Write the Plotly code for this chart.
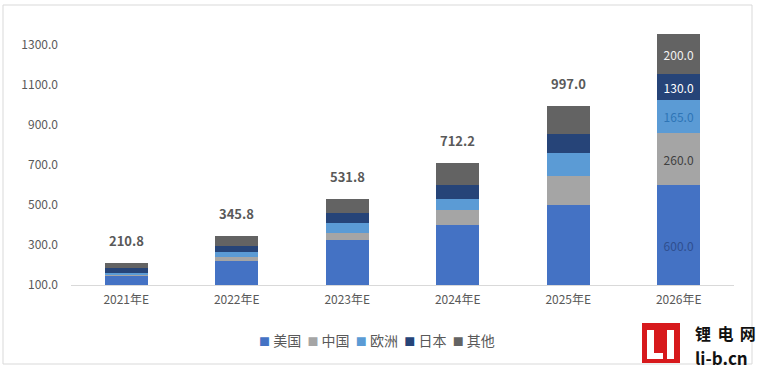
import plotly.graph_objects as go

categories = ["2021年E", "2022年E", "2023年E", "2024年E", "2025年E", "2026年E"]
series_names = ["美国", "中国", "欧洲", "日本", "其他"]
usa = [145, 220, 325, 400, 500, 600]
china = [3, 18, 37, 75, 145, 260]
europe = [12, 28, 50, 53, 117, 165]
japan = [27, 30, 50, 72, 93, 130]
other = [23.8, 49.8, 69.8, 112.2, 142, 200]
y_ticks = [100, 300, 500, 700, 900, 1100, 1300]

series_values = [usa, china, europe, japan, other]
colors = ["#4472C4", "#A5A5A5", "#5B9BD5", "#264478", "#636363"]
label_colors = ["#2F4F8F", "#404040", "#2E75B6", "#FFFFFF", "#F2F2F2"]

W, H = 757, 371
ML, MR, MT, MB = 71, 23, 5, 86
PW, PH = W - ML - MR, H - MT - MB

def px(x):
    return (x - ML) / PW

def py(y):
    return (H - MB - y) / PH

FONT = "Noto Sans CJK SC"

fig = go.Figure()
for name, vals, col, lcol in zip(series_names, series_values, colors, label_colors):
    txt = [""] * (len(vals) - 1) + [f"{vals[-1]:.1f}"]
    fig.add_trace(go.Bar(
        x=categories, y=vals, name=name, marker=dict(color=col, line=dict(width=0)),
        text=txt, textposition="inside", insidetextanchor="middle",
        textfont=dict(color=lcol, size=12, family=FONT), showlegend=False,
    ))

totals = [sum(v) for v in zip(*series_values)]
annotations = []
for c, t in list(zip(categories, totals))[:-1]:
    annotations.append(dict(x=c, y=t, xref="x", yref="y", text=f"<b>{t:.1f}</b>",
                            showarrow=False, yanchor="bottom", yshift=11,
                            font=dict(size=13, color="#595959", family=FONT)))

# legend row
parts = []
for name, col in zip(series_names, colors):
    parts.append(f"<span style='color:{col};font-size:11px'>■</span>&nbsp;{name}")
annotations.append(dict(x=px(377), y=py(340), xref="paper", yref="paper",
                        xanchor="center", yanchor="middle",
                        text="&nbsp;&nbsp;".join(parts), showarrow=False,
                        font=dict(size=14, color="#595959", family=FONT)))

# watermark text
annotations.append(dict(x=px(694), y=py(333), xref="paper", yref="paper",
                        xanchor="left", yanchor="middle", borderpad=0,
                        text="<b>锂\u2009\u2009电\u2009\u2009网</b>", showarrow=False,
                        font=dict(size=16, color="#111111", family=FONT)))
annotations.append(dict(x=px(694), y=py(357), xref="paper", yref="paper",
                        xanchor="left", yanchor="middle", borderpad=0,
                        text="<b>li-b.cn</b>", showarrow=False,
                        font=dict(size=17, color="#111111", family=FONT)))

shapes = [
    dict(type="rect", xref="paper", yref="paper", x0=px(3), x1=px(752), y0=py(5), y1=py(364),
         line=dict(color="#D9D9D9", width=1), fillcolor="rgba(0,0,0,0)", layer="below"),
    dict(type="rect", xref="paper", yref="paper", x0=px(642), x1=px(680), y0=py(323), y1=py(363),
         line=dict(width=0), fillcolor="#D7191C"),
    dict(type="rect", xref="paper", yref="paper", x0=px(647), x1=px(654), y0=py(330), y1=py(359),
         line=dict(width=0), fillcolor="white"),
    dict(type="rect", xref="paper", yref="paper", x0=px(647), x1=px(663), y0=py(353), y1=py(359),
         line=dict(width=0), fillcolor="white"),
    dict(type="rect", xref="paper", yref="paper", x0=px(667), x1=px(674), y0=py(330), y1=py(359),
         line=dict(width=0), fillcolor="white"),
]

fig.update_layout(
    barmode="stack", bargap=0.61,
    width=W, height=H, margin=dict(l=ML, r=MR, t=MT, b=MB),
    paper_bgcolor="white", plot_bgcolor="white",
    font=dict(family=FONT, size=12, color="#595959"),
    annotations=annotations, shapes=shapes, showlegend=False,
    xaxis=dict(showline=True, linecolor="#D9D9D9", linewidth=1, showgrid=False,
               ticks="", tickfont=dict(size=12, color="#595959"), ticklabelstandoff=4),
    yaxis=dict(range=[100, 1500], tickvals=y_ticks, ticktext=[f"{v:.1f}" for v in y_ticks],
               showgrid=False, zeroline=False, showline=False, ticks="",
               tickfont=dict(size=12, color="#595959"), ticklabelstandoff=12),
)

fig.write_html("out.html", config={"displayModeBar": False},
               post_script="document.body.style.margin='0';document.body.style.overflow='hidden';")
